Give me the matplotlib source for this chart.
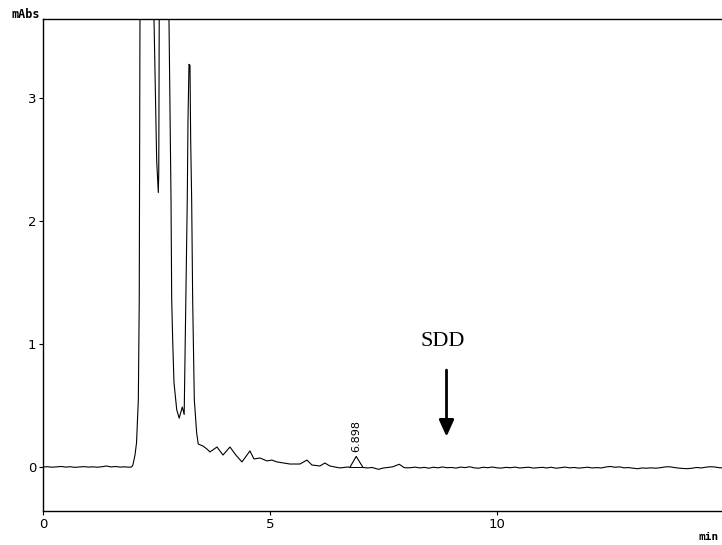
import matplotlib.pyplot as plt

# Chromatogram trace (time in min, absorbance in mAbs)
# values above the frame (off-scale peaks) are given as 6.0
base_t = [0.0, 0.1, 0.2, 0.3, 0.4, 0.5, 0.6, 0.7, 0.8, 0.9, 1.0, 1.1, 1.2, 1.3,
          1.4, 1.5, 1.6, 1.7, 1.8, 1.9, 1.95]
base_v = [0.004, 0.006, 0.002, 0.005, 0.008, 0.003, 0.006, 0.001, 0.004, 0.007,
          0.003, 0.005, 0.002, 0.006, 0.012, 0.004, 0.008, 0.003, 0.005, 0.002, 0.004]

main_t = [1.98, 2.026, 2.06, 2.10, 2.12, 2.136, 2.15, 2.43, 2.445, 2.504, 2.54,
          2.55, 2.56, 2.58, 2.76, 2.775, 2.82, 2.835, 2.857, 2.885, 2.945, 3.00,
          3.068, 3.11, 3.178, 3.194, 3.216, 3.238, 3.253, 3.275, 3.297, 3.333,
          3.385, 3.42]
main_v = [0.02, 0.10, 0.20, 0.55, 1.36, 3.64, 6.0, 6.0, 3.64, 2.49, 2.23,
          2.40, 3.64, 6.0, 6.0, 3.64, 2.17, 1.36, 1.03, 0.69, 0.47, 0.40,
          0.49, 0.43, 2.17, 2.82, 3.27, 3.26, 2.66, 2.17, 1.36, 0.55,
          0.28, 0.19]

tail_t = [3.524, 3.61, 3.678, 3.833, 3.965, 4.119, 4.25, 4.383, 4.559, 4.648,
          4.78, 4.934, 5.04, 5.154, 5.31, 5.44, 5.66, 5.815, 5.925, 6.1, 6.21,
          6.32, 6.43, 6.54, 6.72, 6.76, 6.9, 7.05, 7.15, 7.25, 7.39, 7.5, 7.6,
          7.7, 7.85, 7.95, 8.0]
tail_v = [0.174, 0.15, 0.126, 0.166, 0.101, 0.166, 0.10, 0.045, 0.134, 0.069,
          0.077, 0.053, 0.06, 0.045, 0.036, 0.028, 0.028, 0.06, 0.02, 0.012, 0.036,
          0.012, 0.004, -0.004, 0.004, 0.0, 0.09, 0.0, -0.004, 0.0, -0.015, -0.004, 0.0,
          0.005, 0.026, 0.0, -0.003]

late_t = [round(8.1 + 0.1 * i, 1) for i in range(70)]
late_v = [-0.002, 0.003, -0.004, 0.001, -0.006, 0.002, -0.003, 0.004, -0.002, 0.0,
          -0.005, 0.003, -0.001, 0.006, -0.003, -0.006, 0.002, -0.002, 0.004, -0.003,
          -0.005, 0.001, -0.002, 0.003, -0.004, -0.001, 0.002, -0.005, -0.002, 0.001,
          -0.004, 0.002, -0.006, -0.002, 0.003, -0.003, 0.0, -0.005, -0.002, 0.002,
          -0.004, -0.001, -0.004, 0.004, 0.008, 0.002, 0.005, -0.003, -0.001, -0.006,
          -0.010, -0.004, -0.006, -0.003, -0.006, -0.002, 0.004, 0.006, 0.0, -0.005,
          -0.008, -0.010, -0.006, 0.0, -0.004, 0.002, 0.006, 0.004, -0.002, -0.004]

t = base_t + main_t + tail_t + late_t
v = base_v + main_v + tail_v + late_v

peak_rt = 6.898
peak_label = "6.898"
peak_top = 0.09
sdd_t = 8.89

fig = plt.figure(figsize=(7.22, 5.45), dpi=100)
ax = fig.add_axes([0.0596, 0.0624, 0.9404, 0.9022])

ax.plot(t, v, color='black', lw=0.8)
# integration baseline under the labelled peak
ax.plot([6.76, 7.05], [0.0, 0.0], color='black', lw=0.7)

ax.set_xlim(0, 14.96)
ax.set_ylim(-0.353, 3.635)
ax.set_xticks([0, 5, 10])
ax.set_yticks([0, 1, 2, 3])
ax.tick_params(direction='out', length=3, width=0.8, labelsize=9.5, pad=2)
ax.spines['right'].set_visible(False)
for s in ['left', 'top', 'bottom']:
    ax.spines[s].set_linewidth(1.0)

# peak retention time label
ax.text(peak_rt + 0.01, peak_top + 0.035, peak_label, rotation=90,
        ha='center', va='bottom', fontsize=8)

# SDD marker
ax.text(sdd_t - 0.09, 1.02, "SDD", family='Liberation Serif', fontsize=16,
        ha='center', va='center')
ax.annotate("", xy=(sdd_t, 0.25), xytext=(sdd_t, 0.79),
            arrowprops=dict(arrowstyle='-|>,head_width=0.45,head_length=1.0',
                            color='black', lw=2, shrinkA=0, shrinkB=0))

fig.text(11 / 722, 1 - 18.5 / 545, "mAbs", fontsize=8.5, fontweight='bold',
         family='DejaVu Sans Mono', ha='left', va='baseline')
fig.text(719 / 722, 1 - 540 / 545, "min", fontsize=8, fontweight='bold',
         family='DejaVu Sans Mono', ha='right', va='baseline')

fig.savefig("out.png", dpi=100)
